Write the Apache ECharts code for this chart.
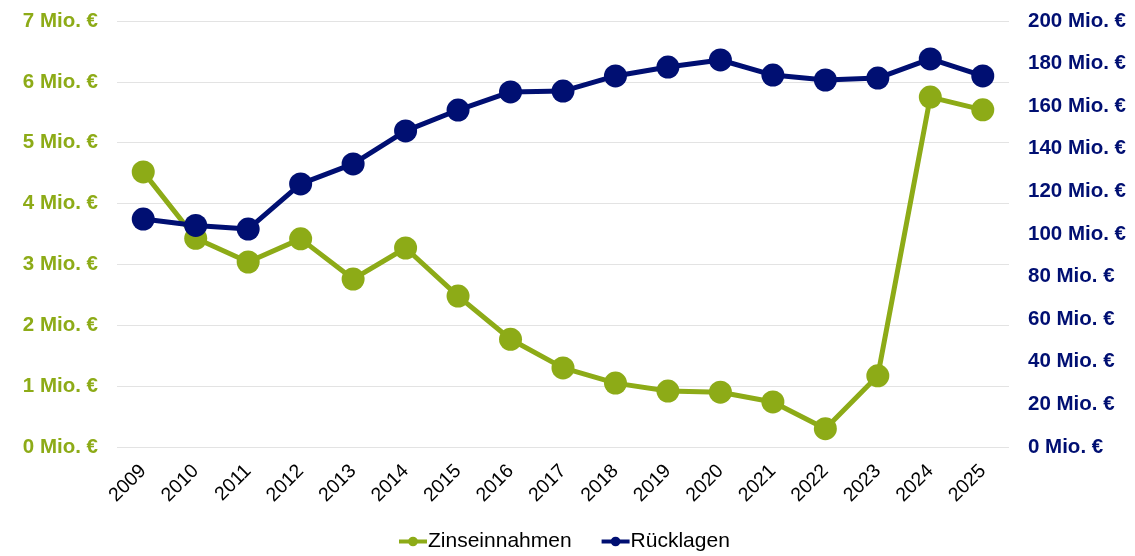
<!DOCTYPE html>
<html>
<head>
<meta charset="utf-8">
<script src="https://cdn.jsdelivr.net/npm/echarts@6/dist/echarts.min.js"></script>
<style>
  html, body { margin: 0; padding: 0; background: #fff; }
  #chart { width: 1135px; height: 556px; }
</style>
</head>
<body>
<div id="chart"></div>
<script>
// Jahre
const years = ['2009','2010','2011','2012','2013','2014','2015','2016','2017','2018','2019','2020','2021','2022','2023','2024','2025'];
// Zinseinnahmen in Mio. €
const zinseinnahmen = [4.52, 3.43, 3.04, 3.42, 2.76, 3.27, 2.48, 1.77, 1.30, 1.05, 0.92, 0.90, 0.74, 0.30, 1.17, 5.75, 5.54];
// Rücklagen in Mio. €
const ruecklagen = [107, 104, 102.3, 123.5, 132.9, 148.4, 158.2, 166.7, 167.1, 174.2, 178.4, 181.7, 174.6, 172.3, 173.2, 182.2, 174.2];

const GREEN = '#8DAB17';
const NAVY = '#000F72';
const FONT = '"Liberation Sans", Arial, sans-serif';

const chart = echarts.init(document.getElementById('chart'));
chart.setOption({
  animation: false,
  textStyle: { fontFamily: FONT },
  grid: { left: 117, right: 126, top: 21, bottom: 109, containLabel: false },
  legend: {
    top: 531,
    left: 397,
    itemWidth: 28,
    itemHeight: 12,
    itemGap: 28,
    padding: 0,
    lineStyle: { width: 4 },
    textStyle: { fontSize: 21, color: '#000', fontFamily: FONT, padding: [0, 0, 0, -4] },
    data: ['Zinseinnahmen', 'Rücklagen']
  },
  xAxis: {
    type: 'category',
    data: years,
    boundaryGap: true,
    axisLine: { show: false },
    axisTick: { show: false },
    axisLabel: { rotate: 45, fontSize: 19.5, color: '#000', margin: 21, interval: 0 }
  },
  yAxis: [
    {
      type: 'value', min: 0, max: 7, interval: 1, position: 'left',
      axisLine: { show: false }, axisTick: { show: false },
      splitLine: { lineStyle: { color: '#e3e3e3', width: 1 } },
      axisLabel: { color: GREEN, fontWeight: 'bold', fontSize: 20.5, margin: 19,
        formatter: v => v + ' Mio. €' }
    },
    {
      type: 'value', min: 0, max: 200, interval: 20, position: 'right',
      axisLine: { show: false }, axisTick: { show: false },
      splitLine: { show: false },
      axisLabel: { color: NAVY, fontWeight: 'bold', fontSize: 20.5, margin: 19,
        formatter: v => v + ' Mio. €' }
    }
  ],
  series: [
    {
      name: 'Zinseinnahmen', type: 'line', yAxisIndex: 0, data: zinseinnahmen,
      symbol: 'circle', symbolSize: 23,
      lineStyle: { color: GREEN, width: 5 },
      itemStyle: { color: GREEN }
    },
    {
      name: 'Rücklagen', type: 'line', yAxisIndex: 1, data: ruecklagen,
      symbol: 'circle', symbolSize: 23,
      lineStyle: { color: NAVY, width: 5 },
      itemStyle: { color: NAVY }
    }
  ]
});
</script>
</body>
</html>
